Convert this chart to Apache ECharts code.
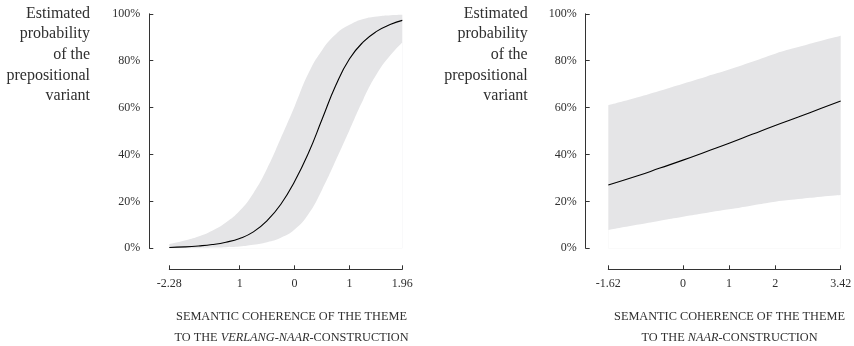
<!DOCTYPE html>
<html>
<head>
<meta charset="utf-8">
<script src="https://cdn.jsdelivr.net/npm/echarts@6/dist/echarts.min.js"></script>
<style>
html,body{margin:0;padding:0;background:#fff;}
#chart{width:854px;height:346px;}
</style>
</head>
<body>
<div id="chart"></div>
<script>
// ---- Data ----
const leftX     = [-2.28, -2, -1.75, -1.5, -1.25, -1, -0.75, -0.5, -0.25, 0, 0.25, 0.5, 0.75, 1, 1.25, 1.5, 1.75, 1.96];
const leftFit   = [0.35, 0.6, 1.0, 1.6, 2.6, 4.2, 7.0, 11.8, 18.8, 28.5, 40.5, 55, 69.5, 80.8, 88, 92.6, 95.5, 97.2];
const leftUpper = [1.8, 3.3, 5.0, 7.5, 11, 16, 23.5, 34, 47, 60.5, 74.5, 84.5, 91.3, 95.3, 97.8, 98.9, 99.4, 99.6];
const leftLower = [0.05, 0.1, 0.15, 0.3, 0.5, 0.8, 1.5, 2.6, 4.5, 8.0, 14.5, 25, 37.5, 50.5, 63.5, 74.5, 82.5, 87.8];

const rightX     = [-1.62, -1, -0.5, 0, 0.5, 1, 1.5, 2, 2.5, 3, 3.42];
const rightFit   = [27, 30.8, 34.2, 37.6, 41.2, 44.8, 48.6, 52.4, 56, 59.7, 62.8];
const rightUpper = [61, 64.3, 67.2, 70.2, 73.2, 76.2, 79.5, 83, 85.8, 88.5, 90.6];
const rightLower = [7.8, 10, 11.8, 13.5, 15.1, 16.6, 18.3, 19.9, 21, 22, 22.7];

const leftTickValues  = [-2.28, -1, 0, 1, 1.96];
const leftTickLabels  = ['-2.28', '1', '0', '1', '1.96'];
const rightTickValues = [-1.62, 0, 1, 2, 3.42];
const rightTickLabels = ['-1.62', '0', '1', '2', '3.42'];

const yTitle = ['Estimated', 'probability', 'of the', 'prepositional', 'variant'];
const xTitleLine1 = 'SEMANTIC COHERENCE OF THE THEME';
const leftConstruction = 'VERLANG-NAAR';
const rightConstruction = 'NAAR';

// ---- Styling ----
const FONT = 'Liberation Serif';
const TXT = '#2f2f2f';
const AXIS = '#333333';
const BAND = '#e5e5e7';

function pairs(xs, ys) { return xs.map((x, i) => [x, ys[i]]); }

function xAxisFor(gridIndex, vals, labels, offset) {
  return {
    type: 'value', gridIndex: gridIndex,
    min: vals[0], max: vals[vals.length - 1],
    offset: offset,
    axisLine: { show: true, onZero: false, lineStyle: { color: AXIS, width: 1 } },
    axisTick: { show: true, inside: true, length: 4, customValues: vals, lineStyle: { color: AXIS, width: 1 } },
    axisLabel: {
      show: true, customValues: vals, margin: 9,
      color: TXT, fontFamily: FONT, fontSize: 12,
      formatter: function (v) {
        let best = 0;
        for (let i = 0; i < vals.length; i++) if (Math.abs(vals[i] - v) < Math.abs(vals[best] - v)) best = i;
        return labels[best];
      }
    },
    splitLine: { show: false }
  };
}
function yAxisFor(gridIndex, offset) {
  return {
    type: 'value', gridIndex: gridIndex, min: 0, max: 100, interval: 20,
    offset: offset,
    axisLine: { show: true, onZero: false, lineStyle: { color: AXIS, width: 1 } },
    axisTick: { show: true, inside: true, length: 4, lineStyle: { color: AXIS, width: 1 } },
    axisLabel: { show: true, margin: 9, color: TXT, fontFamily: FONT, fontSize: 12, formatter: '{value}%' },
    splitLine: { show: false }
  };
}
function bandSeries(idx, xs, hi, lo, fit) {
  return [
    // upper bound filled grey down to the baseline
    { type: 'line', xAxisIndex: idx, yAxisIndex: idx, data: pairs(xs, hi), smooth: 0.5,
      symbol: 'none', lineStyle: { opacity: 0 }, areaStyle: { color: BAND, opacity: 1, origin: 'start' },
      silent: true, z: 1 },
    // lower bound filled white down to the baseline, leaving the band between them
    { type: 'line', xAxisIndex: idx, yAxisIndex: idx, data: pairs(xs, lo), smooth: 0.5,
      symbol: 'none', lineStyle: { opacity: 0 }, areaStyle: { color: '#ffffff', opacity: 1, origin: 'start' },
      silent: true, z: 2 },
    { type: 'line', xAxisIndex: idx, yAxisIndex: idx, data: pairs(xs, fit), smooth: 0.5,
      symbol: 'none', lineStyle: { color: '#000', width: 1.1 }, silent: true, z: 3 }
  ];
}
function yTitleGraphic(rightX) {
  return {
    type: 'text', x: rightX, y: 3, silent: true,
    style: { text: yTitle.join('\n'), align: 'right', verticalAlign: 'top',
      font: '16px "' + FONT + '"', lineHeight: 20.7, fill: TXT }
  };
}
function xTitleGraphic(cx, construction) {
  return {
    type: 'text', x: cx, y: 306, silent: true,
    style: {
      text: '{n|' + xTitleLine1 + '}\n{n|TO THE }{i|' + construction + '}{n|-CONSTRUCTION}',
      align: 'center', verticalAlign: 'top', fill: TXT,
      rich: {
        n: { fontFamily: FONT, fontSize: 12.3, lineHeight: 21, fill: TXT },
        i: { fontFamily: FONT, fontSize: 12.3, fontStyle: 'italic', lineHeight: 21, fill: TXT }
      }
    }
  };
}

const chart = echarts.init(document.getElementById('chart'), null, { renderer: 'canvas' });
chart.setOption({
  backgroundColor: '#ffffff',
  animation: false,
  grid: [
    { left: 169.3, right: 451.7, top: 13.8, bottom: 97.7, containLabel: false, outerBoundsMode: 'none' },
    { left: 608.3, right: 13.3, top: 13.8, bottom: 97.7, containLabel: false, outerBoundsMode: 'none' }
  ],
  xAxis: [
    xAxisFor(0, leftTickValues, leftTickLabels, 21),
    xAxisFor(1, rightTickValues, rightTickLabels, 21)
  ],
  yAxis: [yAxisFor(0, 20), yAxisFor(1, 22.6)],
  series: [].concat(
    bandSeries(0, leftX, leftUpper, leftLower, leftFit),
    bandSeries(1, rightX, rightUpper, rightLower, rightFit)
  ),
  graphic: [
    yTitleGraphic(90), yTitleGraphic(527.7),
    xTitleGraphic(291.5, leftConstruction), xTitleGraphic(729.5, rightConstruction)
  ]
});
</script>
</body>
</html>
